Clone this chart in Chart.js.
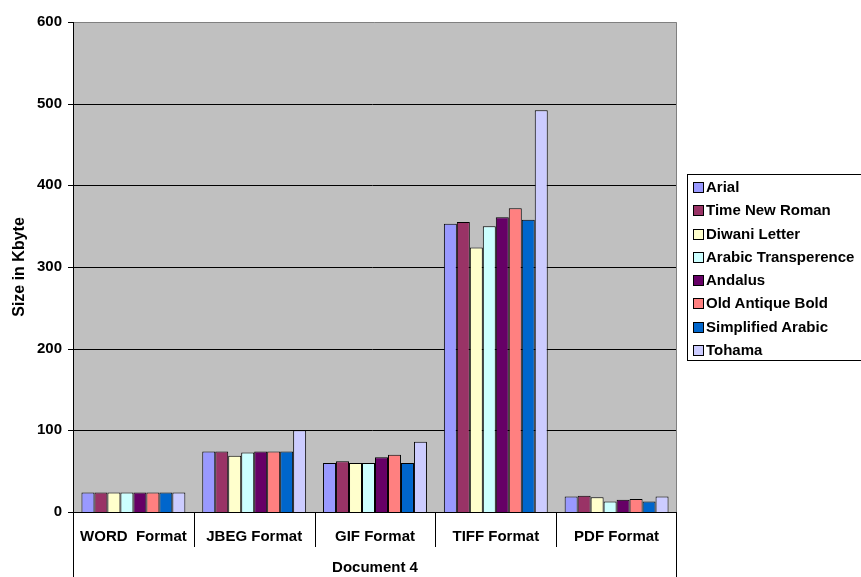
<!DOCTYPE html>
<html>
<head>
<meta charset="utf-8">
<script src="https://cdn.jsdelivr.net/npm/chart.js@4.4.1/dist/chart.umd.min.js"></script>
<style>
  body { margin: 0; background: #fff; }
  #wrap { position: relative; width: 861px; height: 577px; }
  #legend {
    position: absolute; left: 687px; top: 174px; width: 190px; height: 187px;
    border: 1px solid #000; border-right: none; box-sizing: border-box;
    font: bold 15px "Liberation Sans", Arial, sans-serif; color: #000;
    padding-top: 0px;
  }
  #legend div { height: 23.3px; line-height: 23px; white-space: nowrap; }
  #legend span {
    display: inline-block; width: 9px; height: 9px; border: 1px solid #000;
    margin: 0 2px 0 5px; vertical-align: -1px;
  }
</style>
</head>
<body>
<div id="wrap">
  <canvas id="myChart" width="861" height="577"></canvas>
  <div id="legend"></div>
</div>
<script>
// categories (x axis)
var formats = ["WORD  Format", "JBEG Format", "GIF Format", "TIFF Format", "PDF Format"];

// series, one value per format, in Kbyte
var arial      = [24, 74, 60, 353, 19];
var timesNew   = [24, 74, 62, 355, 20];
var diwani     = [24, 69, 60, 324, 18];
var arabicTr   = [24, 73, 60, 350, 13];
var andalus    = [24, 74, 67, 361, 15];
var oldAntique = [24, 74, 70, 372, 16];
var simplified = [24, 74, 60, 358, 13];
var tohama     = [24, 100, 86, 492, 19];

var seriesNames = ["Arial", "Time New Roman", "Diwani Letter", "Arabic Transperence",
                   "Andalus", "Old Antique Bold", "Simplified Arabic", "Tohama"];
var seriesData = [arial, timesNew, diwani, arabicTr, andalus, oldAntique, simplified, tohama];
var seriesColors = ["#9999FF", "#993366", "#FFFFCC", "#CCFFFF",
                    "#660066", "#FF8080", "#0066CC", "#CCCCFF"];

var yTicks = [0, 100, 200, 300, 400, 500, 600];

var FONT = "'Liberation Sans', Arial, sans-serif";

var datasets = [];
for (var i = 0; i < seriesNames.length; i++) {
  datasets.push({
    label: seriesNames[i],
    data: seriesData[i],
    backgroundColor: seriesColors[i],
    borderColor: "#000",
    borderWidth: 1,
    categoryPercentage: 0.86,
    barPercentage: 1.0
  });
}

// grey plot area + category divider lines + long left axis line
var plotDecor = {
  id: "plotDecor",
  beforeDatasetsDraw: function(chart) {
    var ctx = chart.ctx, a = chart.chartArea;
    ctx.save();
    ctx.fillStyle = "#C0C0C0";
    ctx.fillRect(a.left, a.top, a.right - a.left, a.bottom - a.top);
    // horizontal grid lines
    var ys = chart.scales.y;
    ctx.strokeStyle = "#000";
    ctx.lineWidth = 1;
    yTicks.forEach(function(v) {
      var py = Math.round(ys.getPixelForValue(v)) + 0.5;
      ctx.beginPath();
      ctx.moveTo(a.left - 5, py);
      ctx.lineTo(v === 600 ? a.left : a.right, py);
      ctx.stroke();
    });
    // grey frame on top and right of plot
    ctx.strokeStyle = "#808080";
    var ty = Math.round(a.top) + 0.5, rx = Math.round(a.right) - 0.5;
    ctx.beginPath();
    ctx.moveTo(a.left, ty);
    ctx.lineTo(rx, ty);
    ctx.lineTo(rx, a.bottom);
    ctx.stroke();
    ctx.restore();
  },
  afterDraw: function(chart) {
    var ctx = chart.ctx, a = chart.chartArea, xs = chart.scales.x;
    ctx.save();
    ctx.strokeStyle = "#000";
    ctx.lineWidth = 1;
    for (var i = 0; i <= formats.length; i++) {
      var px = Math.round(xs.getPixelForValue(i - 0.5)) + 0.5;
      if (i === formats.length) px -= 1;
      ctx.beginPath();
      ctx.moveTo(px, a.bottom);
      ctx.lineTo(px, (i === 0 || i === formats.length) ? chart.height : a.bottom + 35);
      ctx.stroke();
    }
    // left axis line and bottom line
    var lx = Math.round(a.left) + 0.5;
    ctx.beginPath();
    ctx.moveTo(lx, a.top);
    ctx.lineTo(lx, a.bottom);
    ctx.moveTo(a.left, Math.round(a.bottom) + 0.5);
    ctx.lineTo(a.right, Math.round(a.bottom) + 0.5);
    ctx.stroke();
    ctx.restore();
  }
};

var ctx = document.getElementById("myChart").getContext("2d");
var myChart = new Chart(ctx, {
  type: "bar",
  data: { labels: formats, datasets: datasets },
  options: {
    responsive: false,
    animation: false,
    layout: { padding: { top: 22, right: 184, left: 0, bottom: 0 } },
    plugins: {
      legend: { display: false },
      tooltip: { enabled: false }
    },
    scales: {
      x: {
        grid: { display: false },
        border: { display: false },
        ticks: {
          color: "#000",
          font: { family: FONT, size: 15, weight: "bold" },
          padding: 8,
          maxRotation: 0,
          autoSkip: false
        },
        title: {
          display: true,
          text: "Document 4",
          color: "#000",
          font: { family: FONT, size: 15, weight: "bold" },
          padding: { top: 8, bottom: 0 }
        },
        afterFit: function(s) { s.height = 65; }
      },
      y: {
        min: 0, max: 600,
        grid: { display: false },
        border: { display: false },
        ticks: {
          stepSize: 100,
          color: "#000",
          padding: 3,
          font: { family: FONT, size: 15, weight: "bold" }
        },
        title: {
          display: true,
          text: "Size in Kbyte",
          color: "#000",
          font: { family: FONT, size: 16, weight: "bold" },
          padding: { top: 10, bottom: 0 }
        },
        afterFit: function(s) { s.width = 73; }
      }
    }
  },
  plugins: [plotDecor]
});

// legend built from the same series arrays
var lg = document.getElementById("legend");
for (var j = 0; j < seriesNames.length; j++) {
  var row = document.createElement("div");
  row.innerHTML = '<span style="background:' + seriesColors[j] + '"></span>' + seriesNames[j];
  lg.appendChild(row);
}
</script>
</body>
</html>
